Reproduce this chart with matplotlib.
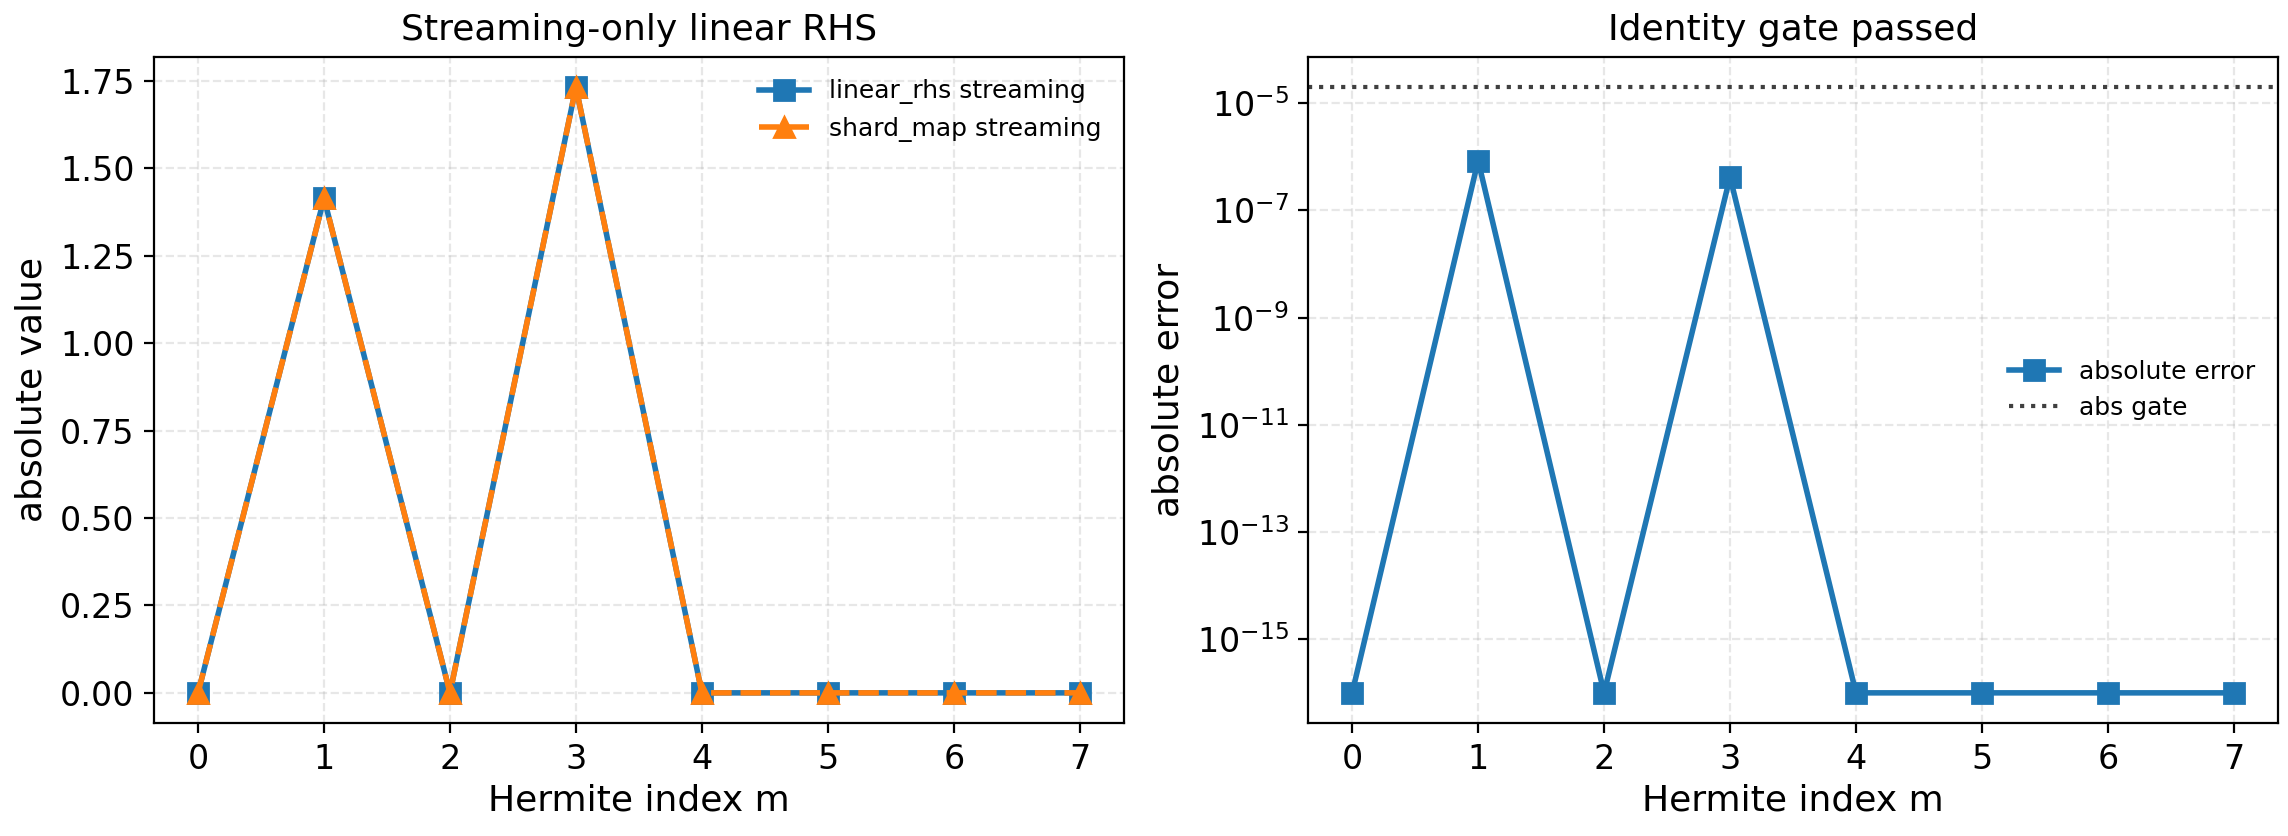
import numpy as np
import matplotlib
matplotlib.use("Agg")
import matplotlib.pyplot as plt

# Hermite index and streaming linear RHS magnitudes
m = [0, 1, 2, 3, 4, 5, 6, 7]
linear_rhs = [0.0, 1.4142, 0.0, 1.7321, 0.0, 0.0, 0.0, 0.0]
shard_map = [0.0, 1.4142, 0.0, 1.7321, 0.0, 0.0, 0.0, 0.0]

# absolute error between the two (floored for log plot)
abs_error = [1e-16, 8.5e-7, 1e-16, 4.2e-7, 1e-16, 1e-16, 1e-16, 1e-16]
abs_gate = 2e-5

fig, (ax1, ax2) = plt.subplots(1, 2, figsize=(11.44, 4.18), dpi=200)
fig.subplots_adjust(left=0.0673, right=0.9956, bottom=0.135, top=0.932, wspace=0.19)

ax1.plot(m, linear_rhs, "-s", color="tab:blue", lw=2, markersize=7, label="linear_rhs streaming")
ax1.plot(m, shard_map, "--^", color="tab:orange", lw=2, markersize=7, label="shard_map streaming")
ax1.set_title("Streaming-only linear RHS", fontsize=13)
ax1.set_xlabel("Hermite index m", fontsize=13, labelpad=3)
ax1.set_ylabel("absolute value", fontsize=13)
ax1.legend(loc="upper right", frameon=False, fontsize=9)

ax2.semilogy(m, abs_error, "-s", color="tab:blue", lw=2, markersize=7, label="absolute error")
ax2.axhline(abs_gate, color="0.25", ls=":", lw=1.5, label="abs gate")
ax2.set_title("Identity gate passed", fontsize=13)
ax2.set_xlabel("Hermite index m", fontsize=13, labelpad=3)
ax2.set_ylabel("absolute error", fontsize=13)
ax2.legend(loc="center right", frameon=False, fontsize=9)

for ax in (ax1, ax2):
    ax.set_xticks(m)
    ax.tick_params(labelsize=12)
    ax.grid(True, ls="--", alpha=0.3)

fig.savefig("out.png", dpi=200)
